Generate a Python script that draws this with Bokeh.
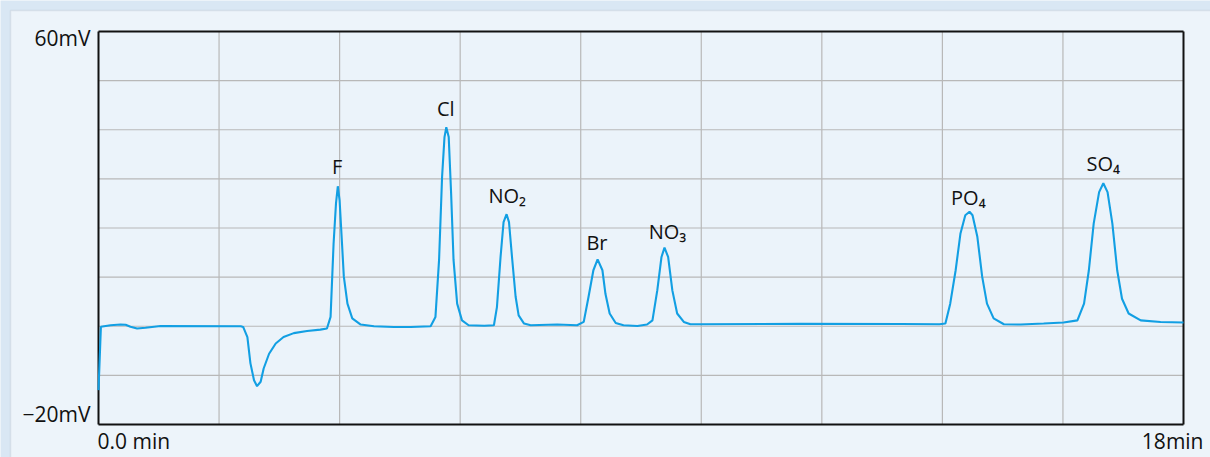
from bokeh.plotting import figure
from bokeh.models import Range1d, BoxAnnotation, Label, ColumnDataSource
from bokeh.core.properties import value
from bokeh.embed import file_html
from bokeh.resources import INLINE

# ---- data ----
time_min = [0.0, 0.04, 0.20, 0.365, 0.45, 0.53, 0.64, 0.78, 1.03, 2.36,
            2.40, 2.47, 2.52, 2.58, 2.63, 2.69, 2.74, 2.83, 2.94, 3.07, 3.24, 3.46, 3.68, 3.79,
            3.85, 3.90, 3.94, 3.97, 4.00, 4.04, 4.07, 4.13, 4.21, 4.35, 4.57, 4.90, 5.18, 5.51,
            5.59, 5.65, 5.70, 5.74, 5.77, 5.81, 5.85, 5.89, 5.95, 6.03, 6.14, 6.40,
            6.56, 6.61, 6.67, 6.72, 6.77, 6.81, 6.86, 6.92, 6.97, 7.06, 7.17, 7.61, 7.94,
            8.05, 8.13, 8.21, 8.28, 8.36, 8.41, 8.48, 8.58, 8.71, 8.94, 9.10,
            9.19, 9.27, 9.34, 9.39, 9.45, 9.52, 9.60, 9.71, 9.82, 9.99, 11.65, 13.31, 13.95,
            14.05, 14.13, 14.22, 14.30, 14.38, 14.45, 14.50, 14.58, 14.66, 14.74, 14.85, 15.02,
            15.30, 15.68, 16.01, 16.24,
            16.35, 16.43, 16.51, 16.60, 16.67, 16.74, 16.82, 16.90, 16.98, 17.09, 17.29, 17.62, 18.0]
signal_mv = [-13.0, -0.1, 0.2, 0.35, 0.3, -0.1, -0.45, -0.3, 0.05, 0.0,
             -0.14, -2.2, -7.5, -11.0, -12.2, -11.3, -8.6, -5.6, -3.5, -2.2, -1.4, -0.96, -0.68, -0.47,
             1.9, 16.8, 25.0, 28.5, 25.6, 16.8, 10.1, 4.6, 1.6, 0.35, 0.0, -0.14, -0.14, 0.0,
             1.9, 13.5, 30.4, 38.5, 40.5, 38.5, 27.0, 13.5, 4.6, 1.2, 0.2, 0.1,
             0.2, 3.9, 14.1, 21.2, 22.8, 21.2, 14.1, 6.0, 2.2, 0.55, 0.2, 0.35, 0.2,
             0.88, 6.0, 11.4, 13.6, 11.4, 6.6, 2.6, 0.67, 0.2, 0.06, 0.35,
             1.2, 7.3, 14.1, 16.0, 14.1, 7.3, 2.6, 0.88, 0.4, 0.4, 0.5, 0.45, 0.4,
             0.55, 4.6, 11.4, 18.9, 22.6, 23.3, 22.6, 18.2, 10.1, 4.6, 1.6, 0.4,
             0.35, 0.55, 0.75, 1.2,
             4.6, 11.4, 20.9, 27.3, 29.1, 27.3, 20.9, 11.4, 5.6, 2.6, 1.2, 0.88, 0.75]

peak_names = ["F", "Cl", "NO\u2082", "Br", "NO\u2083", "PO\u2084", "SO\u2084"]
peak_label_t = [3.96, 5.76, 6.78, 8.27, 9.44, 14.43, 16.67]
peak_label_mv = [30.8, 42.6, 24.9, 15.5, 17.7, 24.6, 31.4]

x_start, x_end = 0, 18
y_min, y_max = -20, 60
x_grid_ticks = [2, 4, 6, 8, 10, 12, 14, 16]
y_grid_ticks = [-10, 0, 10, 20, 30, 40, 50]
y_tick_values = [60, -20]
y_tick_labels = ["60mV", "\u221220mV"]
x_tick_values = [0, 18]
x_tick_labels = ["0.0 min", "18min"]

# ---- layout (pixels) ----
W, H = 1210, 457
PL, PR, PT, PB = 98, 1183, 31, 424   # plot-area edges in canvas pixels
FONT = "Open Sans"
OUTER = "#d9e7f4"
PANEL = "#edf4fa"
INK = "#111111"
GRID = "#b8b8b8"

# the frame covers the whole canvas; the chart box is drawn inside it
px_per_min = (PR - PL) / (x_end - x_start)
px_per_mv = (PB - PT) / (y_max - y_min)
xr = Range1d(x_start - PL / px_per_min, x_end + (W - PR) / px_per_min)
yr = Range1d(y_min - (H - PB) / px_per_mv, y_max + PT / px_per_mv)

p = figure(width=W, height=H, output_backend="svg", toolbar_location=None,
           x_range=xr, y_range=yr, min_border=0)
p.xaxis.visible = False
p.yaxis.visible = False
p.grid.visible = False
p.outline_line_color = None
p.border_fill_color = OUTER
p.background_fill_color = OUTER

panel = BoxAnnotation(left=10, right=1240, top=10, bottom=500,
                      left_units="canvas", right_units="canvas",
                      top_units="canvas", bottom_units="canvas",
                      fill_color=PANEL, fill_alpha=1.0,
                      line_color="#b7c1cb", line_width=1.5, level="image")
p.add_layout(panel)

plot_area = BoxAnnotation(left=x_start, right=x_end, bottom=y_min, top=y_max,
                          fill_color="#ebf3fa", fill_alpha=1.0, line_color=None,
                          level="image")
p.add_layout(plot_area)

# grid lines restricted to the chart box
p.segment(x0=x_grid_ticks, x1=x_grid_ticks,
          y0=[y_min] * len(x_grid_ticks), y1=[y_max] * len(x_grid_ticks),
          line_color=GRID, line_width=1.2)
p.segment(x0=[x_start] * len(y_grid_ticks), x1=[x_end] * len(y_grid_ticks),
          y0=y_grid_ticks, y1=y_grid_ticks,
          line_color=GRID, line_width=1.2)

# dark chart frame
p.segment(x0=[x_start, x_start, x_start, x_end], x1=[x_end, x_end, x_start, x_end],
          y0=[y_min, y_max, y_min, y_min], y1=[y_min, y_max, y_max, y_max],
          line_color=INK, line_width=2)

src = ColumnDataSource(dict(t=time_min, mv=signal_mv))
p.line("t", "mv", source=src, line_color="#129fe3", line_width=2.1)

lab = ColumnDataSource(dict(t=peak_label_t, mv=peak_label_mv, name=peak_names))
p.text("t", "mv", text="name", source=lab, text_align="center", text_baseline="alphabetic",
       y_offset=-8, text_font=value(FONT), text_font_size="20px", text_color=INK)

for v, txt in zip(y_tick_values, y_tick_labels):
    p.add_layout(Label(x=x_start, y=v, text=txt, x_offset=-8,
                       y_offset=(-6 if v == y_max else 11),
                       text_align="right", text_baseline="alphabetic",
                       text_font=FONT, text_font_size="21px", text_color=INK))
for v, txt in zip(x_tick_values, x_tick_labels):
    p.add_layout(Label(x=v, y=y_min, text=txt, x_offset=(-1 if v == x_start else 20),
                       y_offset=-16, text_align=("left" if v == x_start else "right"),
                       text_baseline="alphabetic",
                       text_font=FONT, text_font_size="21px", text_color=INK))

open("out.html", "w").write(file_html(p, INLINE))
